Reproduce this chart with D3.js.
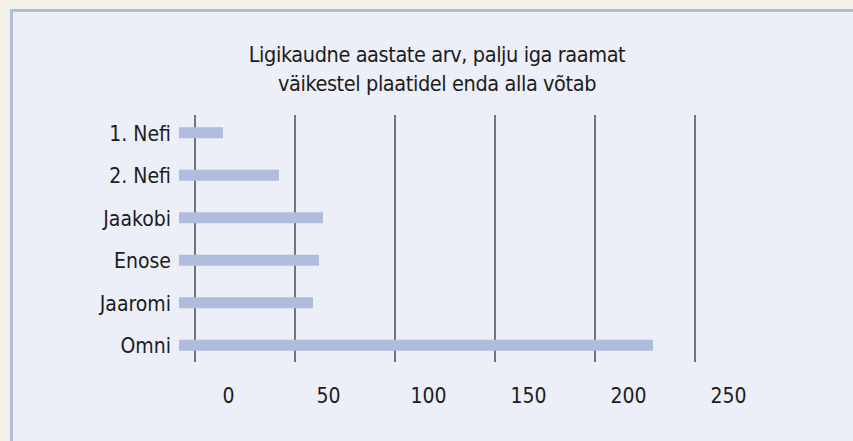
<!DOCTYPE html>
<html>
<head>
<meta charset="utf-8">
<script src="https://cdn.jsdelivr.net/npm/d3@7"></script>
<style>
  html, body { margin: 0; padding: 0; background: #f3f0e9; overflow: hidden; }
  svg { display: block; }
</style>
</head>
<body>
<svg id="chart" width="853" height="441"></svg>
<script>
// data
const categories = ["1. Nefi", "2. Nefi", "Jaakobi", "Enose", "Jaaromi", "Omni"];
const years = [22, 50, 72, 70, 67, 237];
const tickValues = [0, 50, 100, 150, 200, 250];
const titleLines = ["Ligikaudne aastate arv, palju iga raamat", "väikestel plaatidel enda alla võtab"];

const W = 853, H = 441;
const FONT = "'Liberation Sans Narrow', 'DejaVu Sans Condensed', 'Roboto', sans-serif";
const INK = "#1c1c1c";

const svg = d3.select("#chart");

// panel (runs off the right and bottom edges)
svg.append("rect").attr("width", W).attr("height", H).attr("fill", "#f3f0e9");
svg.append("rect")
  .attr("x", 11.5).attr("y", 10.5)
  .attr("width", W + 40).attr("height", H + 40)
  .attr("fill", "#eceff7")
  .attr("stroke", "#b3bddc")
  .attr("stroke-width", 3);

// scales
const x = d3.scaleLinear().domain([0, 250]).range([179, 679]);
const y = d3.scalePoint().domain(categories).range([111.5, 366.5]).padding(0.5);

// the grid and the tick labels sit off the bar baseline in the original
const gridShift = 16;
const labelShift = 49;

// title
svg.append("g")
  .selectAll("text")
  .data(titleLines)
  .join("text")
  .attr("x", 437)
  .attr("y", (d, i) => 62 + i * 29)
  .attr("text-anchor", "middle")
  .attr("font-family", FONT)
  .attr("font-size", 21.5)
  .attr("letter-spacing", -0.4)
  .attr("fill", INK)
  .text((d) => d);

// grid lines
svg.append("g")
  .attr("class", "grid")
  .selectAll("line")
  .data(tickValues)
  .join("line")
  .attr("x1", (d) => x(d) + gridShift)
  .attr("x2", (d) => x(d) + gridShift)
  .attr("y1", 115)
  .attr("y2", 362)
  .attr("stroke", "#222")
  .attr("stroke-width", 1.2);

// bars
const barH = 11;
svg.append("g")
  .selectAll("rect")
  .data(categories)
  .join("rect")
  .attr("x", x(0))
  .attr("y", (d) => y(d) - barH / 2)
  .attr("width", (d, i) => x(years[i]) - x(0))
  .attr("height", barH)
  .attr("fill", "#b0bcdb");

// category labels
const yAxis = svg.append("g")
  .attr("transform", "translate(171,0)")
  .call(d3.axisLeft(y).tickSize(0).tickPadding(0));
yAxis.select(".domain").remove();
yAxis.selectAll(".tick text")
  .attr("font-family", FONT)
  .attr("font-size", 21)
  .attr("fill", INK)
  .attr("dy", "0.36em");

// value tick labels
const xAxis = svg.append("g")
  .attr("transform", `translate(${labelShift},395)`)
  .call(d3.axisBottom(x).tickValues(tickValues).tickSize(0).tickPadding(0));
xAxis.select(".domain").remove();
xAxis.selectAll(".tick text")
  .attr("font-family", FONT)
  .attr("font-size", 21)
  .attr("fill", INK)
  .attr("dy", "0.4em");
</script>
</body>
</html>
